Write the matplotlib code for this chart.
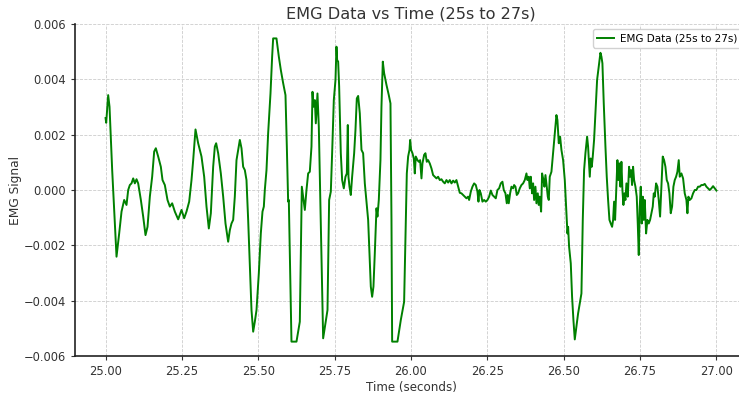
"""
plot.py - EMG signal trace between 25 s and 27 s.
"""

import matplotlib
matplotlib.use("Agg")
import matplotlib.pyplot as plt
import numpy as np

# ── Data ──────────────────────────────────────────────────────────────────────
time_s = [
    25.0000, 25.0021, 25.0086, 25.0130, 25.0217, 25.0359, 25.0446, 25.0523,
    25.0610, 25.0686, 25.0741, 25.0795, 25.0850, 25.0905, 25.0959, 25.1014,
    25.1068, 25.1156, 25.1232, 25.1308, 25.1374, 25.1450, 25.1526, 25.1592,
    25.1646, 25.1723, 25.1810, 25.1865, 25.1941, 25.2028, 25.2105, 25.2181,
    25.2268, 25.2378, 25.2487, 25.2574, 25.2650, 25.2738, 25.2814, 25.2869,
    25.2945, 25.3032, 25.3141, 25.3229, 25.3305, 25.3381, 25.3447, 25.3523,
    25.3578, 25.3621, 25.3687, 25.3774, 25.3851, 25.3927, 25.4014, 25.4069,
    25.4123, 25.4178, 25.4232, 25.4287, 25.4342, 25.4396, 25.4451, 25.4505,
    25.4560, 25.4614, 25.4669, 25.4723, 25.4778, 25.4833, 25.4887, 25.4942,
    25.5018, 25.5083, 25.5138, 25.5182, 25.5214, 25.5269, 25.5323, 25.5400,
    25.5454, 25.5487, 25.5596, 25.5673, 25.5738, 25.5815, 25.5891, 25.5935,
    25.5978, 25.6000, 25.6055, 25.6087, 25.6251, 25.6360, 25.6393, 25.6426,
    25.6469, 25.6524, 25.6578, 25.6633, 25.6687, 25.6742, 25.6775, 25.6807,
    25.6851, 25.6884, 25.6938, 25.6982, 25.7124, 25.7200, 25.7266, 25.7320,
    25.7375, 25.7418, 25.7473, 25.7528, 25.7560, 25.7582, 25.7615, 25.7648,
    25.7702, 25.7746, 25.7800, 25.7855, 25.7899, 25.7931, 25.7953, 25.7986,
    25.8029, 25.8073, 25.8139, 25.8182, 25.8226, 25.8270, 25.8324, 25.8379,
    25.8433, 25.8488, 25.8542, 25.8597, 25.8651, 25.8684, 25.8728, 25.8771,
    25.8815, 25.8870, 25.8902, 25.8946, 25.9000, 25.9033, 25.9077, 25.9121,
    25.9197, 25.9273, 25.9328, 25.9361, 25.9383, 25.9557, 25.9666, 25.9775,
    25.9819, 25.9863, 25.9906, 25.9950, 25.9972, 26.0004, 26.0048, 26.0092,
    26.0124, 26.0157, 26.0212, 26.0255, 26.0299, 26.0343, 26.0375, 26.0430,
    26.0473, 26.0517, 26.0561, 26.0615, 26.0670, 26.0724, 26.0779, 26.0834,
    26.0888, 26.0943, 26.0997, 26.1052, 26.1106, 26.1161, 26.1216, 26.1270,
    26.1325, 26.1379, 26.1434, 26.1488, 26.1543, 26.1597, 26.1652, 26.1707,
    26.1761, 26.1816, 26.1870, 26.1903, 26.1958, 26.2012, 26.2067, 26.2121,
    26.2176, 26.2209, 26.2241, 26.2285, 26.2339, 26.2394, 26.2449, 26.2503,
    26.2558, 26.2612, 26.2667, 26.2721, 26.2776, 26.2830, 26.2885, 26.2940,
    26.2994, 26.3038, 26.3092, 26.3136, 26.3169, 26.3201, 26.3245, 26.3289,
    26.3343, 26.3376, 26.3420, 26.3463, 26.3507, 26.3561, 26.3616, 26.3671,
    26.3725, 26.3780, 26.3812, 26.3856, 26.3889, 26.3921, 26.3965, 26.3998,
    26.4031, 26.4074, 26.4107, 26.4151, 26.4183, 26.4216, 26.4260, 26.4292,
    26.4336, 26.4369, 26.4402, 26.4445, 26.4478, 26.4511, 26.4543, 26.4598,
    26.4652, 26.4707, 26.4761, 26.4794, 26.4838, 26.4882, 26.4925, 26.4980,
    26.5035, 26.5078, 26.5122, 26.5144, 26.5176, 26.5231, 26.5274, 26.5318,
    26.5362, 26.5416, 26.5471, 26.5525, 26.5580, 26.5624, 26.5667, 26.5711,
    26.5766, 26.5798, 26.5853, 26.5885, 26.5918, 26.5951, 26.5994, 26.6038,
    26.6093, 26.6147, 26.6202, 26.6235, 26.6267, 26.6311, 26.6366, 26.6409,
    26.6453, 26.6497, 26.6540, 26.6584, 26.6617, 26.6649, 26.6682, 26.6726,
    26.6758, 26.6791, 26.6824, 26.6857, 26.6889, 26.6922, 26.6955, 26.6987,
    26.7020, 26.7053, 26.7097, 26.7140, 26.7173, 26.7206, 26.7238, 26.7271,
    26.7304, 26.7348, 26.7391, 26.7424, 26.7457, 26.7489, 26.7522, 26.7555,
    26.7588, 26.7620, 26.7653, 26.7697, 26.7740, 26.7784, 26.7828, 26.7871,
    26.7915, 26.7948, 26.7981, 26.8024, 26.8068, 26.8111, 26.8155, 26.8199,
    26.8242, 26.8286, 26.8330, 26.8373, 26.8417, 26.8460, 26.8504, 26.8548,
    26.8591, 26.8635, 26.8679, 26.8722, 26.8766, 26.8799, 26.8853, 26.8908,
    26.8962, 26.9017, 26.9050, 26.9082, 26.9126, 26.9181, 26.9235, 26.9290,
    26.9344, 26.9399, 26.9453, 26.9508, 26.9563, 26.9617, 26.9672, 26.9726,
    26.9781, 26.9835, 26.9890, 26.9944, 27.0000,
]

emg_signal = [
    0.00260, 0.00243, 0.00343, 0.00301, 0.00072, -0.00241, -0.00157, -0.00078,
    -0.00036, -0.00054, 0.00000, 0.00018, 0.00024, 0.00042, 0.00024, 0.00039,
    0.00024, -0.00036, -0.00096, -0.00163, -0.00133, -0.00024, 0.00048, 0.00139,
    0.00151, 0.00121, 0.00084, 0.00036, 0.00018, -0.00036, -0.00060, -0.00048,
    -0.00078, -0.00106, -0.00072, -0.00102, -0.00078, -0.00042, 0.00036, 0.00108,
    0.00219, 0.00169, 0.00121, 0.00048, -0.00060, -0.00139, -0.00084, 0.00084,
    0.00157, 0.00169, 0.00133, 0.00060, -0.00024, -0.00121, -0.00187, -0.00145,
    -0.00121, -0.00108, -0.00024, 0.00108, 0.00145, 0.00181, 0.00151, 0.00084,
    0.00072, 0.00036, -0.00108, -0.00265, -0.00434, -0.00512, -0.00476, -0.00434,
    -0.00301, -0.00157, -0.00078, -0.00060, 0.00000, 0.00072, 0.00205, 0.00349,
    0.00482, 0.00548, 0.00548, 0.00482, 0.00434, 0.00386, 0.00343, 0.00157,
    -0.00042, -0.00036, -0.00349, -0.00548, -0.00548, -0.00476, -0.00229, 0.00012,
    -0.00024, -0.00072, 0.00000, 0.00060, 0.00066, 0.00157, 0.00355, 0.00301,
    0.00325, 0.00241, 0.00349, 0.00229, -0.00536, -0.00482, -0.00434, -0.00036,
    -0.00006, 0.00133, 0.00325, 0.00398, 0.00518, 0.00470, 0.00464, 0.00374,
    0.00133, 0.00036, 0.00006, 0.00048, 0.00060, 0.00235, 0.00048, 0.00012,
    -0.00018, 0.00048, 0.00133, 0.00217, 0.00331, 0.00340, 0.00277, 0.00145,
    0.00133, 0.00024, -0.00042, -0.00108, -0.00253, -0.00349, -0.00386, -0.00349,
    -0.00229, -0.00066, -0.00096, -0.00036, 0.00108, 0.00301, 0.00464, 0.00422,
    0.00380, 0.00343, 0.00313, -0.00108, -0.00548, -0.00548, -0.00470, -0.00404,
    -0.00169, 0.00060, 0.00121, 0.00145, 0.00181, 0.00145, 0.00133, 0.00114,
    0.00060, 0.00121, 0.00108, 0.00102, 0.00108, 0.00042, 0.00096, 0.00127,
    0.00133, 0.00102, 0.00108, 0.00096, 0.00078, 0.00054, 0.00048, 0.00042,
    0.00048, 0.00036, 0.00039, 0.00030, 0.00024, 0.00036, 0.00027, 0.00036,
    0.00024, 0.00034, 0.00027, 0.00036, 0.00012, -0.00010, -0.00012, -0.00018,
    -0.00024, -0.00030, -0.00024, -0.00036, -0.00006, 0.00012, 0.00024, 0.00018,
    -0.00006, -0.00042, 0.00000, -0.00012, -0.00042, -0.00036, -0.00042, -0.00036,
    -0.00024, -0.00002, -0.00018, -0.00024, -0.00030, 0.00000, 0.00006, 0.00024,
    0.00030, 0.00000, -0.00012, -0.00048, -0.00018, -0.00048, -0.00012, 0.00012,
    0.00006, 0.00018, 0.00012, -0.00018, -0.00012, 0.00006, 0.00018, 0.00024,
    0.00036, 0.00060, 0.00036, 0.00048, 0.00006, 0.00048, -0.00012, 0.00024,
    -0.00036, 0.00012, -0.00048, -0.00012, -0.00054, -0.00024, -0.00078, 0.00060,
    0.00036, 0.00012, 0.00054, 0.00012, -0.00024, -0.00036, 0.00048, 0.00066,
    0.00133, 0.00205, 0.00271, 0.00253, 0.00169, 0.00193, 0.00145, 0.00108,
    0.00036, -0.00060, -0.00157, -0.00133, -0.00205, -0.00265, -0.00386, -0.00470,
    -0.00540, -0.00494, -0.00446, -0.00410, -0.00374, -0.00108, 0.00072, 0.00133,
    0.00193, 0.00157, 0.00048, 0.00114, 0.00084, 0.00121, 0.00181, 0.00277,
    0.00398, 0.00446, 0.00496, 0.00482, 0.00458, 0.00313, 0.00157, 0.00048,
    -0.00036, -0.00108, -0.00121, -0.00133, -0.00108, -0.00042, -0.00108, 0.00012,
    0.00108, 0.00036, 0.00096, 0.00012, 0.00102, 0.00000, -0.00054, -0.00012,
    -0.00036, 0.00024, -0.00024, 0.00084, 0.00048, 0.00072, 0.00018, 0.00084,
    0.00036, 0.00012, -0.00024, -0.00121, -0.00235, -0.00060, 0.00012, -0.00121,
    -0.00024, -0.00108, -0.00036, -0.00157, -0.00108, -0.00121, -0.00108, -0.00084,
    -0.00060, -0.00012, -0.00024, 0.00024, 0.00012, -0.00036, -0.00096, 0.00012,
    0.00121, 0.00108, 0.00084, 0.00036, 0.00024, -0.00012, -0.00084, -0.00060,
    0.00012, 0.00036, 0.00048, 0.00066, 0.00108, 0.00048, 0.00060, 0.00042,
    -0.00012, -0.00036, -0.00084, -0.00024, -0.00036, -0.00030, -0.00012, 0.00000,
    0.00000, 0.00012, 0.00012, 0.00018, 0.00018, 0.00022, 0.00012, 0.00006,
    0.00000, 0.00006, 0.00014, 0.00006, -0.00002,
]

y_ticks = [-0.006, -0.004, -0.002, 0.000, 0.002, 0.004, 0.006]
x_ticks = [25.00, 25.25, 25.50, 25.75, 26.00, 26.25, 26.50, 26.75, 27.00]

# ── Style ─────────────────────────────────────────────────────────────────────
CLR_LINE = "green"
CLR_TEXT = "#333333"
CLR_GRID = "#cccccc"

t = np.asarray(time_s)
v = np.asarray(emg_signal)

fig = plt.figure(figsize=(7.39, 3.93), dpi=100)
# right edge of the axes runs past the canvas, as in the cropped original
ax = fig.add_axes([0.1015, 0.0941, 0.9093, 0.8448])

ax.plot(t, v, color=CLR_LINE, linewidth=1.4, label="EMG Data (25s to 27s)")

ax.set_xlim(24.9, 27.1)
ax.set_ylim(-0.006, 0.006)
ax.set_xticks(x_ticks)
ax.set_yticks(y_ticks)

ax.grid(True, color=CLR_GRID, linestyle="--", linewidth=0.6)
ax.spines[["top", "right"]].set_visible(False)
for side in ("left", "bottom"):
    ax.spines[side].set_color("#222222")
    ax.spines[side].set_linewidth(1.2)
ax.tick_params(labelsize=8.3, colors=CLR_TEXT, length=3)

ax.set_title("EMG Data vs Time (25s to 27s)", fontsize=11.6, color=CLR_TEXT, pad=4)
ax.set_xlabel("Time (seconds)", fontsize=8.6, color=CLR_TEXT, labelpad=2)
ax.set_ylabel("EMG Signal", fontsize=8.8, color=CLR_TEXT, labelpad=1)

ax.legend(loc="upper right", fontsize=7.5, framealpha=0.9, edgecolor="#cccccc",
          handlelength=1.6, handletextpad=0.6)

fig.savefig("out.png", dpi=100)
